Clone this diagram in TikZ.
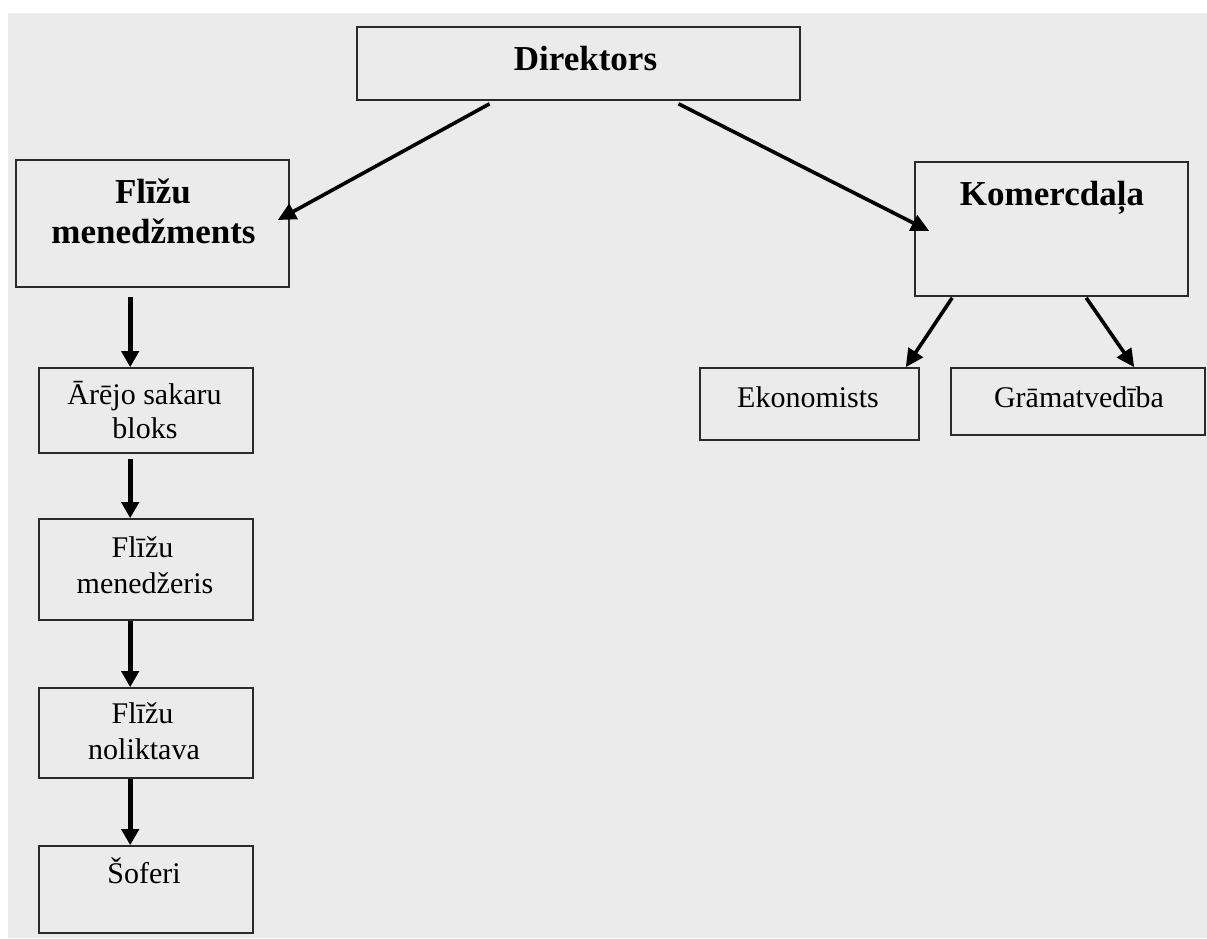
\documentclass[tikz,border=0pt]{standalone}
\usepackage{fontspec}
\setmainfont{Liberation Serif}
\usetikzlibrary{arrows.meta,calc}
\definecolor{panel}{HTML}{EBEBEB}
\definecolor{edge}{HTML}{2A2A2A}

\begin{document}
\begin{tikzpicture}[x=1pt,y=-1pt,
  box/.style={draw=edge, line width=1.6pt, rectangle, inner sep=0pt},
  title/.style={font=\fontsize{35}{40}\selectfont\bfseries, anchor=base, inner sep=0pt},
  body/.style={font=\fontsize{30}{34}\selectfont, anchor=base, inner sep=0pt},
  link/.style={line width=3.6pt, -{Triangle[length=18pt,width=17pt]}},
  vlink/.style={line width=5.2pt, -{Triangle[length=16pt,width=17pt]}}]

% canvas
\useasboundingbox (0,0) rectangle (1207,938);
\fill[white] (0,0) rectangle (1207,938);
\fill[panel] (8,13) rectangle (1207,938);

% boxes
\node[box, minimum width=443pt, minimum height=73pt]  (dir) at (578.5,63.5) {};
\node[box, minimum width=273pt, minimum height=127pt] (fm)  at (152.5,223.5) {};
\node[box, minimum width=273pt, minimum height=134pt] (km)  at (1051.5,229) {};
\node[box, minimum width=219pt, minimum height=72pt]  (ek)  at (809.5,404) {};
\node[box, minimum width=254pt, minimum height=67pt]  (gr)  at (1078,401.5) {};
\node[box, minimum width=214pt, minimum height=85pt]  (ab)  at (146,410.5) {};
\node[box, minimum width=214pt, minimum height=101pt] (mg)  at (146,569.5) {};
\node[box, minimum width=214pt, minimum height=90pt]  (nl)  at (146,733) {};
\node[box, minimum width=214pt, minimum height=87pt]  (sf)  at (146,889.5) {};

% labels
\node[title] (t-dir)  at (585.5,70)  {Direktors};
\node[title] (t-fm1)  at (153,203)   {Flīžu};
\node[title] (t-fm2)  at (153.5,243) {menedžments};
\node[title] (t-km)   at (1052,205)  {Komercdaļa};
\node[body]  (t-ek)   at (808,407)   {Ekonomists};
\node[body]  (t-gr)   at (1079,407)  {Grāmatvedība};
\node[body]  (t-ab1)  at (144.5,404) {Ārējo sakaru};
\node[body]  (t-ab2)  at (145,438)   {bloks};
\node[body]  (t-mg1)  at (142.5,557) {Flīžu};
\node[body]  (t-mg2)  at (145,593)   {menedžeris};
\node[body]  (t-nl1)  at (142.5,723) {Flīžu};
\node[body]  (t-nl2)  at (144,759)   {noliktava};
\node[body]  (t-sf)   at (144,883)   {Šoferi};

% connectors
\draw[link] ($(dir.south west)!0.30!(dir.south east)+(0,3)$) -- ($(fm.east)+(-12,-3.5)$);
\draw[link] ($(dir.south west)!0.725!(dir.south east)+(0,3)$) -- ($(km.west)+(15,2)$);
\draw[link] ($(km.south west)+(38,1)$) -- ($(ek.north east)+(-14,0)$);
\draw[link] ($(km.south west)+(172,1)$) -- ($(gr.north west)+(184,0)$);

\draw[vlink] ($(fm.south west)+(115,9)$) -- ($(ab.north west)+(92,0)$);
\draw[vlink] ($(ab.south west)+(92,5)$)  -- ($(mg.north west)+(92,0)$);
\draw[vlink] ($(mg.south west)+(92,0)$)  -- ($(nl.north west)+(92,0)$);
\draw[vlink] ($(nl.south west)+(92,0)$)  -- ($(sf.north west)+(92,0)$);
\end{tikzpicture}
\end{document}
